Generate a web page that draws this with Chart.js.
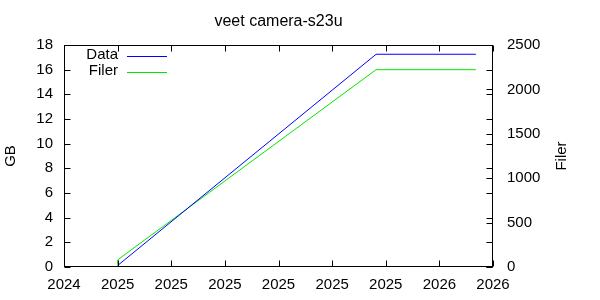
<!DOCTYPE html>
<html><head><meta charset="utf-8">
<script src="https://cdn.jsdelivr.net/npm/chart.js@4/dist/chart.umd.min.js"></script>
<style>html,body{margin:0;padding:0;background:#fff}#wrap{width:600px;height:300px}</style>
</head><body><div id="wrap"><canvas id="c" width="600" height="300"></canvas></div>
<script>
const chartTitle = 'veet camera-s23u';
const leftAxisTitle = 'GB';
const rightAxisTitle = 'Filer';
const xTickLabels = ['2024','2025','2025','2025','2025','2025','2025','2026','2026'];
const seriesNames = ['Data', 'Filer'];
const dataX = [1.0, 5.82, 7.68];
const dataGB = [0.12, 17.25, 17.25];
const filerX = [1.0, 1.0, 5.82, 7.68];
const filerCount = [25, 80, 2222, 2222];
const seriesColors = ['rgb(0,0,255)', 'rgb(0,230,0)'];

const FONT = 'Liberation Sans, Arial, sans-serif';
Chart.defaults.font.family = FONT;
Chart.defaults.font.size = 15;
Chart.defaults.color = '#000';

const gnuplotDecor = {
  id: 'gnuplotDecor',
  afterDraw(chart) {
    const ctx = chart.ctx, a = chart.chartArea;
    const L = Math.round(a.left) + 0.5, R = Math.round(a.right) - 0.5;
    const T = Math.round(a.top) + 0.5, B = Math.round(a.bottom) - 0.5;
    ctx.save();
    ctx.strokeStyle = '#000'; ctx.lineWidth = 1;
    ctx.strokeRect(L, T, R - L, B - T);
    const tl = 6;
    ctx.beginPath();
    const sx = chart.scales.x, sy = chart.scales.y, sy2 = chart.scales.y2;
    sx.ticks.forEach(t => {
      const px = Math.round(sx.getPixelForValue(t.value)) + 0.5;
      ctx.moveTo(px, B); ctx.lineTo(px, B - tl);
      ctx.moveTo(px, T); ctx.lineTo(px, T + tl);
    });
    sy.ticks.forEach(t => {
      const py = Math.round(sy.getPixelForValue(t.value)) + 0.5;
      ctx.moveTo(L, py); ctx.lineTo(L + tl, py);
      ctx.moveTo(R, py); ctx.lineTo(R - tl, py);
    });
    sy2.ticks.forEach(t => {
      const py = Math.round(sy2.getPixelForValue(t.value)) + 0.5;
      ctx.moveTo(R, py); ctx.lineTo(R - tl, py);
    });
    ctx.stroke();

    ctx.fillStyle = '#000';
    ctx.font = '16px ' + FONT;
    ctx.textAlign = 'center'; ctx.textBaseline = 'middle';
    ctx.fillText(chartTitle, (a.left + a.right) / 2, 22);

    ctx.font = '15px ' + FONT;
    ctx.save(); ctx.translate(11, (a.top + a.bottom) / 2); ctx.rotate(-Math.PI / 2);
    ctx.fillText(leftAxisTitle, 0, 0); ctx.restore();
    ctx.save(); ctx.translate(562, (a.top + a.bottom) / 2); ctx.rotate(-Math.PI / 2);
    ctx.fillText(rightAxisTitle, 0, 0); ctx.restore();

    // legend
    seriesNames.forEach((name, i) => {
      const y = Math.round(a.top + 10 + i * 15.5);
      ctx.textAlign = 'right';
      ctx.fillStyle = '#000';
      ctx.fillText(name, a.left + 54, y);
      ctx.strokeStyle = seriesColors[i];
      ctx.lineWidth = 1;
      ctx.beginPath();
      ctx.moveTo(a.left + 63, y + 1.5);
      ctx.lineTo(a.left + 103, y + 1.5);
      ctx.stroke();
    });
    ctx.restore();
  }
};

new Chart(document.getElementById('c'), {
  type: 'line',
  data: {
    datasets: [
      { label: seriesNames[0], data: dataX.map((x, i) => ({ x, y: dataGB[i] })), borderColor: seriesColors[0], yAxisID: 'y' },
      { label: seriesNames[1], data: filerX.map((x, i) => ({ x, y: filerCount[i] })), borderColor: seriesColors[1], yAxisID: 'y2' }
    ]
  },
  options: {
    responsive: false,
    animation: false,
    devicePixelRatio: 1,
    elements: { point: { radius: 0 }, line: { borderWidth: 1, tension: 0 } },
    layout: { padding: { top: 45, left: 0, right: 0, bottom: 0 } },
    plugins: { legend: { display: false }, title: { display: false }, tooltip: { enabled: false } },
    scales: {
      x: {
        type: 'linear', min: 0, max: 8,
        grid: { display: false, drawTicks: false }, border: { display: false },
        ticks: { stepSize: 1, autoSkip: false, maxRotation: 0, padding: 9,
          callback: v => xTickLabels[v] ?? '' },
        afterFit: s => { s.height = 33; }
      },
      y: {
        position: 'left', min: 0, max: 18,
        grid: { display: false, drawTicks: false }, border: { display: false },
        ticks: { stepSize: 2, padding: 11, callback: v => String(v) },
        afterFit: s => { s.width = 64; }
      },
      y2: {
        position: 'right', min: 0, max: 2500,
        grid: { display: false, drawTicks: false }, border: { display: false },
        ticks: { stepSize: 500, padding: 14, callback: v => String(v) },
        afterFit: s => { s.width = 107; }
      }
    }
  },
  plugins: [gnuplotDecor]
});
</script></body></html>
